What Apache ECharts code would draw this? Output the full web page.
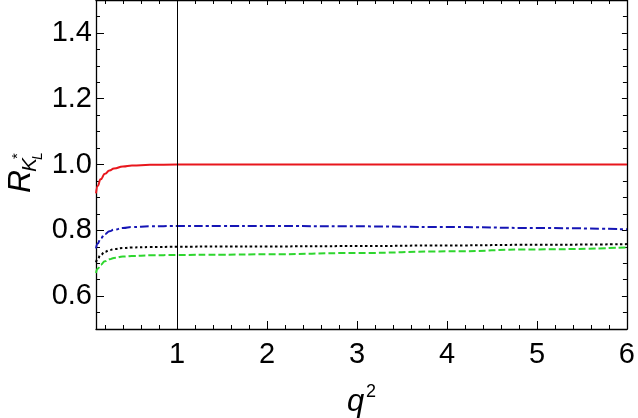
<!DOCTYPE html>
<html><head><meta charset="utf-8">
<script src="https://cdn.jsdelivr.net/npm/echarts@6/dist/echarts.min.js"></script>
<style>html,body{margin:0;padding:0;background:#fff}#c{width:638px;height:418px}</style>
</head><body><div id="c"></div>
<script>
const Q2 = [0.1,0.12,0.15,0.2,0.25,0.3,0.4,0.5,0.7,1,1.5,2,3,4,5,6];
const RED = [0.912,0.935,0.955,0.972,0.982,0.988,0.994,0.997,0.999,1.0,1.0,1.0,1.0,1.0,1.0,1.0];
const BLUE = [0.745,0.760,0.775,0.789,0.797,0.802,0.807,0.810,0.812,0.813,0.813,0.813,0.812,0.810,0.807,0.803];
const BLACK = [0.703,0.714,0.725,0.735,0.740,0.743,0.746,0.748,0.749,0.750,0.751,0.751,0.752,0.754,0.756,0.758];
const GREEN = [0.670,0.683,0.695,0.706,0.712,0.716,0.720,0.722,0.724,0.725,0.726,0.727,0.731,0.736,0.742,0.748];
const X_MAJOR = [1,2,3,4,5,6];
const X_MINOR = [0.2,0.4,0.6,0.8,1.2,1.4,1.6,1.8,2.2,2.4,2.6,2.8,3.2,3.4,3.6,3.8,4.2,4.4,4.6,4.8,5.2,5.4,5.6,5.8];
const Y_MAJOR = [0.6,0.8,1.0,1.2,1.4];
const Y_MINOR = [0.55,0.65,0.7,0.75,0.85,0.9,0.95,1.05,1.1,1.15,1.25,1.3,1.35,1.45];
const X_LINE = 1;

const FONT = 'Liberation Sans';
const pair = ys => Q2.map((x,i)=>[x,ys[i]]);

function xAx(pos, ticks, len, labels, line){
  return {type:'value', position:pos, min:0.1, max:6,
    axisLine:{show:line, onZero:false, lineStyle:{color:'#000', width:1.3}},
    axisTick:{show:true, inside:true, length:len, customValues:ticks, lineStyle:{color:'#000', width:1}},
    axisLabel:labels ? {show:true, customValues:ticks, fontFamily:FONT, fontSize:29, color:'#000', margin:11,
      formatter:v=>String(v)} : {show:false},
    splitLine:{show:false}};
}
function yAx(pos, ticks, len, labels, line){
  return {type:'value', position:pos, min:0.5, max:1.5,
    axisLine:{show:line, onZero:false, lineStyle:{color:'#000', width:1.3}},
    axisTick:{show:true, inside:true, length:len, customValues:ticks, lineStyle:{color:'#000', width:1}},
    axisLabel:labels ? {show:true, customValues:ticks, fontFamily:FONT, fontSize:29, color:'#000', margin:4,
      formatter:v=>v.toFixed(1)} : {show:false},
    splitLine:{show:false}};
}

const chart = echarts.init(document.getElementById('c'), null, {renderer:'canvas'});
chart.setOption({
  backgroundColor:'#fff',
  animation:false,
  grid:{left:96, right:9, top:0, bottom:89, containLabel:false},
  xAxis:[xAx('bottom',X_MAJOR,8,true,true), xAx('bottom',X_MINOR,4,false,false),
         xAx('top',X_MAJOR,5,false,true), xAx('top',X_MINOR,4,false,false)],
  yAxis:[yAx('left',Y_MAJOR,8,true,true), yAx('left',Y_MINOR,4,false,false),
         yAx('right',Y_MAJOR,5,false,true), yAx('right',Y_MINOR,4,false,false)],
  series:[
    {type:'line', data:pair(RED), showSymbol:false, smooth:true, smoothMonotone:'x',
      lineStyle:{color:'#e8161c', width:2},
      markLine:{silent:true, symbol:['none','none'], label:{show:false},
        lineStyle:{color:'#000', width:1, type:'solid'}, data:[{xAxis:X_LINE}]}},
    {type:'line', data:pair(BLUE), showSymbol:false, smooth:true, smoothMonotone:'x',
      lineStyle:{color:'#1515b5', width:2, type:[9,3,3,3]}},
    {type:'line', data:pair(BLACK), showSymbol:false, smooth:true, smoothMonotone:'x',
      lineStyle:{color:'#000', width:2, type:[2.5,2.5]}},
    {type:'line', data:pair(GREEN), showSymbol:false, smooth:true, smoothMonotone:'x',
      lineStyle:{color:'#2ed62e', width:2, type:[7,3]}}
  ],
  graphic:[
    {type:'group', x:21, y:193, rotation:Math.PI/2, children:[
      {type:'text', x:0, y:0, style:{text:'R', font:'italic 32px "Liberation Sans"', fill:'#000', verticalAlign:'middle', align:'left'}},
      {type:'text', x:21, y:9, style:{text:'K', font:'italic 21px "Liberation Sans"', fill:'#000', verticalAlign:'middle', align:'left'}},
      {type:'text', x:34, y:-3, style:{text:'*', font:'15px "Liberation Sans"', fill:'#000', verticalAlign:'middle', align:'left'}},
      {type:'text', x:33, y:17, style:{text:'L', font:'italic 14px "Liberation Sans"', fill:'#000', verticalAlign:'middle', align:'left'}}
    ]},
    {type:'text', x:347, y:387, style:{text:'q', font:'italic 31px "Liberation Sans"', fill:'#000'}},
    {type:'text', x:366, y:383, style:{text:'2', font:'18px "Liberation Sans"', fill:'#000'}}
  ]
});
</script></body></html>
